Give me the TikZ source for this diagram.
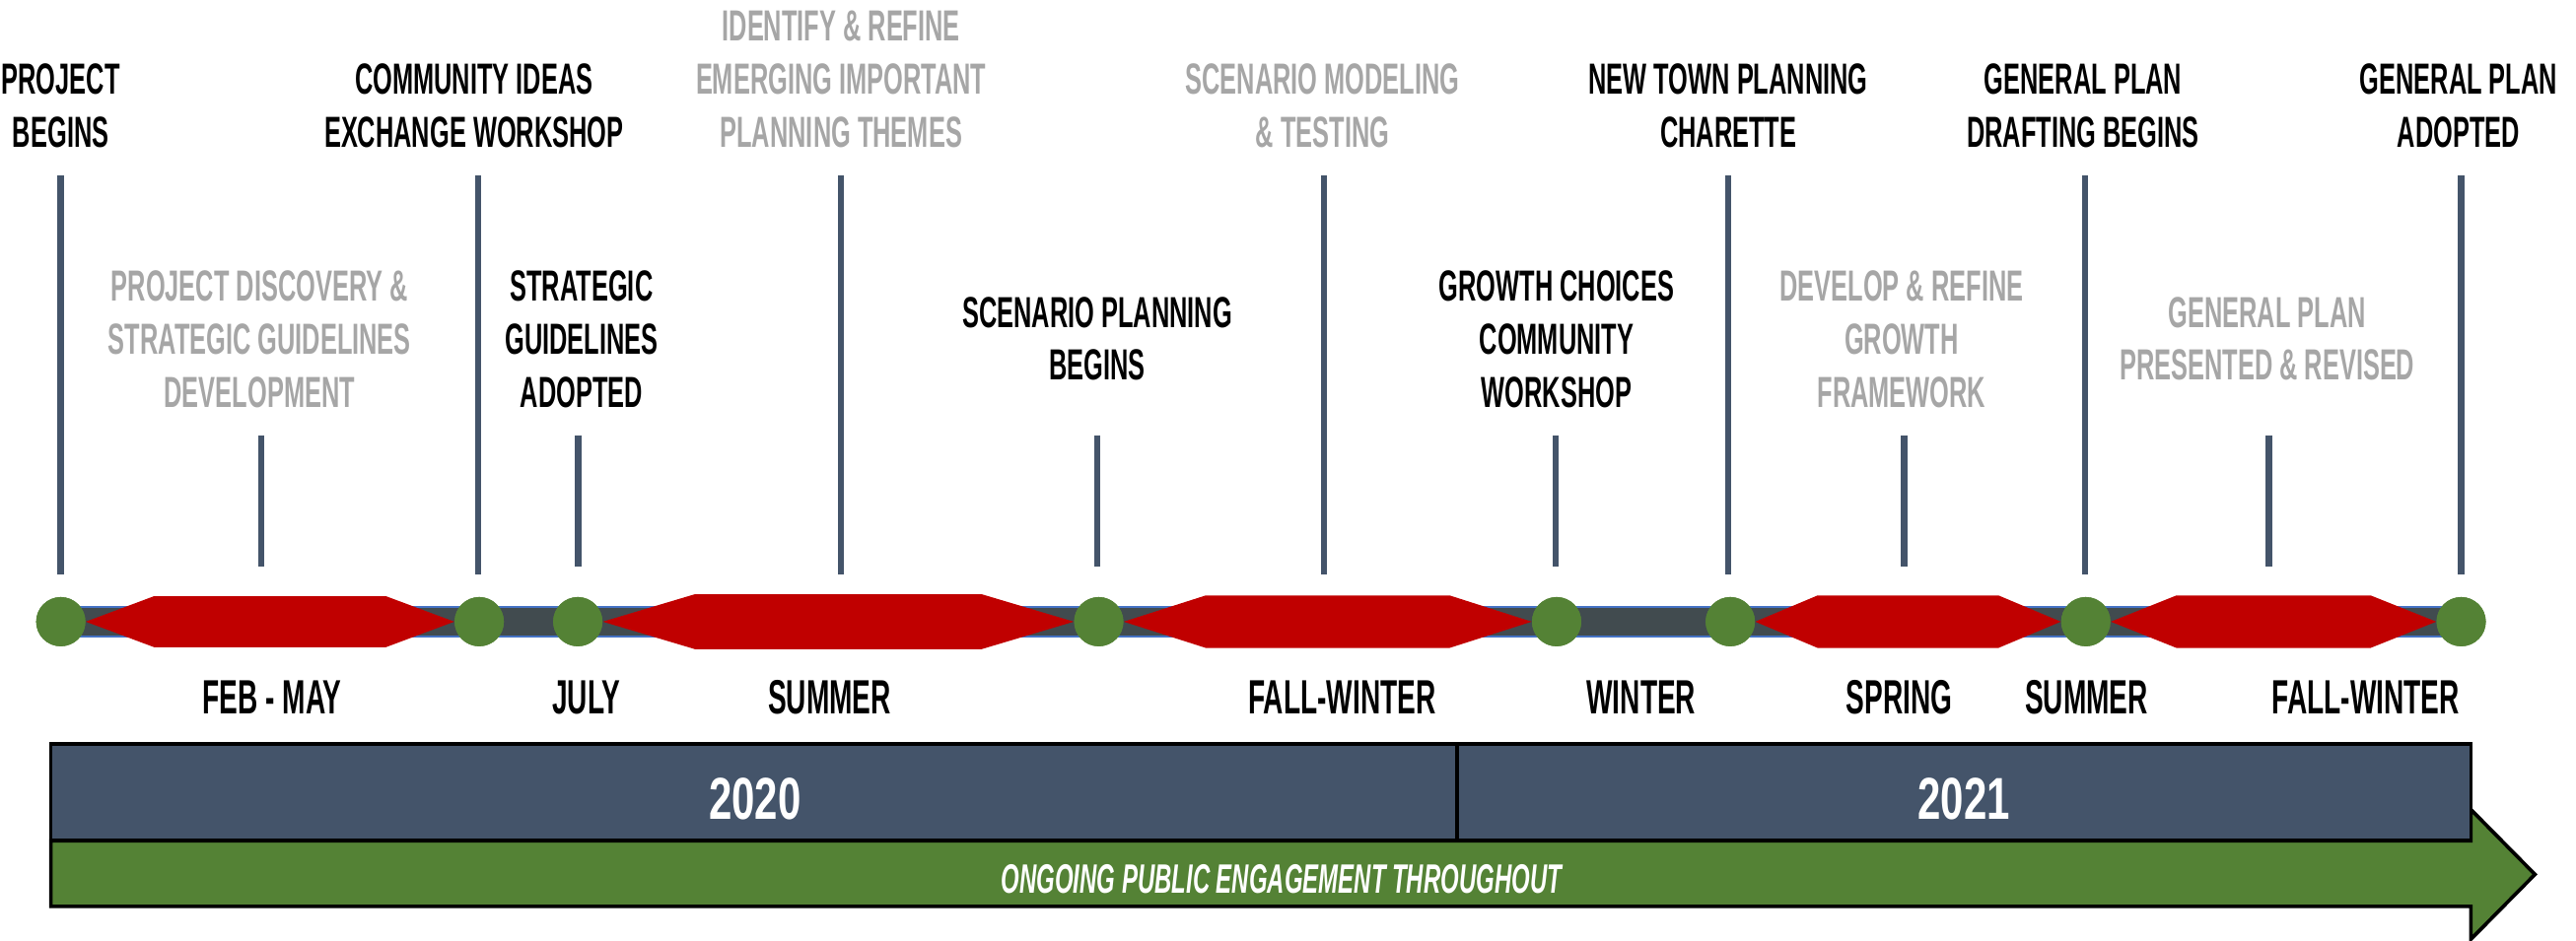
\documentclass[tikz,border=0pt]{standalone}
\usepackage{fontspec}
\usetikzlibrary{calc}
\newfontfamily\condf{Liberation Sans}[FakeStretch=0.575]
\newfontfamily\yearf{Liberation Sans}[FakeStretch=0.7]
\definecolor{slate}{HTML}{44546A}
\definecolor{barfill}{HTML}{414B4F}
\definecolor{barline}{HTML}{4472C4}
\definecolor{gr}{HTML}{548235}
\definecolor{rd}{HTML}{C00000}
\definecolor{lgray}{HTML}{A6A6A6}
\newcommand\hexa[4]{%
  \fill[rd] (#1.east) -- ($(#1.east)+(#3,-#4)$) -- ($(#2.west)+(-#3,-#4)$) -- (#2.west)
    -- ($(#2.west)+(-#3,#4)$) -- ($(#1.east)+(#3,#4)$) -- cycle;}
\begin{document}
\begin{tikzpicture}[x=1pt,y=-1pt,
  lbl/.style={font=\condf\bfseries\fontsize{26.5}{32.3}\selectfont, align=center, inner sep=0pt, anchor=south},
  blk/.style={lbl,text=black},
  gry/.style={lbl,text=lgray},
  per/.style={font=\condf\bfseries\fontsize{29.3}{32}\selectfont, inner sep=0pt, anchor=base, text=black},
  tickline/.style={draw=slate, line width=3.8pt},
  ms/.style={circle, fill=gr, minimum size=30pt, inner sep=0pt},
  yearbox/.style={draw=black, fill=slate, line width=2.2pt},
  yeartext/.style={font=\yearf\bfseries\fontsize{36}{40}\selectfont, text=white, inner sep=0pt, anchor=base}]
\useasboundingbox (0,0) rectangle (1568,573);

% ticks
\foreach \x in {37,291,512,806,1052,1269,1498}
  \draw[tickline] (\x,107) -- (\x,350);
\foreach \x in {159,352,668,947,1159,1381}
  \draw[tickline] (\x,265) -- (\x,345);

% main bar
\draw[fill=barfill, draw=barline, line width=1pt] (37,369.5) rectangle (1498,387.6);

% milestones
\node[ms] (m1) at (37,378.6) {};
\node[ms] (m2) at (291.7,378.6) {};
\node[ms] (m3) at (351.7,378.6) {};
\node[ms] (m4) at (668.8,378.6) {};
\node[ms] (m5) at (947.5,378.6) {};
\node[ms] (m6) at (1053.2,378.6) {};
\node[ms] (m7) at (1269.6,378.6) {};
\node[ms] (m8) at (1498.1,378.6) {};

\hexa{m1}{m2}{41.5}{15.5}
\hexa{m3}{m4}{56}{16.7}
\hexa{m4}{m5}{50}{16}
\hexa{m6}{m7}{38}{16}
\hexa{m7}{m8}{40}{16}

\foreach \n in {m1,m2,m3,m4,m5,m6,m7,m8}
  \fill[gr] (\n) circle[radius=15];

% top labels
\node[blk] (t1) at (37,90) {PROJECT\\BEGINS};
\node[blk] (t2) at (288.5,90) {COMMUNITY IDEAS\\EXCHANGE WORKSHOP};
\node[gry] (t3) at (512,90) {IDENTIFY \& REFINE\\EMERGING IMPORTANT\\PLANNING THEMES};
\node[gry] (t4) at (805,90) {SCENARIO MODELING\\\& TESTING};
\node[blk] (t5) at (1052,90) {NEW TOWN PLANNING\\CHARETTE};
\node[blk] (t6) at (1268,90) {GENERAL PLAN\\DRAFTING BEGINS};
\node[blk] (t7) at (1496.5,90) {GENERAL PLAN\\ADOPTED};

% middle labels
\node[gry] (b1) at (158,248.5) {PROJECT DISCOVERY \&\\STRATEGIC GUIDELINES\\DEVELOPMENT};
\node[blk] (b2) at (354,248.5) {STRATEGIC\\GUIDELINES\\ADOPTED};
\node[blk] (b3) at (668,232) {SCENARIO PLANNING\\BEGINS};
\node[blk] (b4) at (947.5,248.5) {GROWTH CHOICES\\COMMUNITY\\WORKSHOP};
\node[gry] (b5) at (1157.5,248.5) {DEVELOP \& REFINE\\GROWTH\\FRAMEWORK};
\node[gry] (b6) at (1380,232) {GENERAL PLAN\\PRESENTED \& REVISED};

% period labels
\node[per] (p1) at (165.7,434.5) {FEB - MAY};
\node[per] (p2) at (357,434.5) {JULY};
\node[per] (p3) at (505,434.5) {SUMMER};
\node[per] (p4) at (817,434.5) {FALL-WINTER};
\node[per] (p5) at (999,434.5) {WINTER};
\node[per] (p6) at (1156,434.5) {SPRING};
\node[per] (p7) at (1270,434.5) {SUMMER};
\node[per] (p8) at (1440,434.5) {FALL-WINTER};

% engagement arrow
\draw[fill=gr, draw=black, line width=2.2pt, line join=miter]
  (31,512) -- (1504,512) -- (1504,493) -- (1543,532.5) -- (1504,572) -- (1504,552) -- (31,552) -- cycle;
\node[font=\condf\bfseries\itshape\fontsize{25}{30}\selectfont, text=white, inner sep=0pt, anchor=base]
  (ong) at (780,544) {ONGOING PUBLIC ENGAGEMENT THROUGHOUT};

% year boxes
\draw[yearbox] (31,453) rectangle (887,512);
\draw[yearbox] (887,453) rectangle (1504,512);
\node[yeartext] (y1) at (459.5,499) {2020};
\node[yeartext] (y2) at (1195.5,499) {2021};
\end{tikzpicture}
\end{document}
